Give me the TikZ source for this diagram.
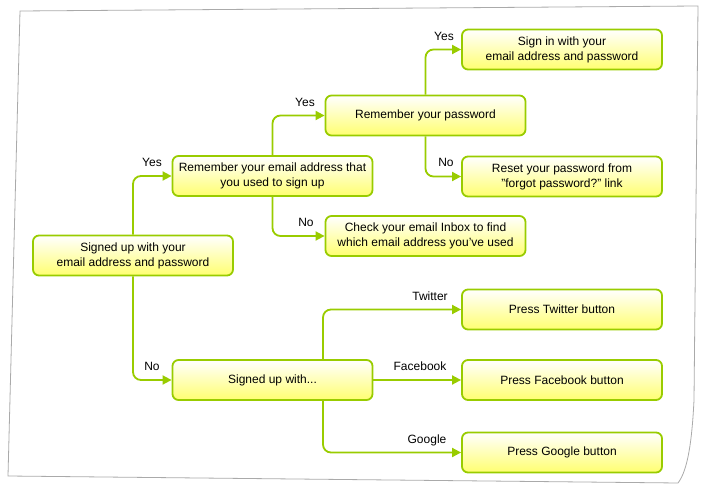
\documentclass[tikz,border=0pt]{standalone}
\usepackage{fontspec}
\setmainfont{Liberation Sans}
\usetikzlibrary{arrows.meta}
\definecolor{edgegreen}{HTML}{99CC00}
\definecolor{boxyellow}{HTML}{FFFF70}
\definecolor{papergray}{HTML}{AAAAAA}
\begin{document}
\begin{tikzpicture}[x=1pt,y=-1pt,
  box/.style={draw=edgegreen, line width=1.8pt, rounded corners=6pt,
    minimum width=200pt, minimum height=40pt, inner sep=0pt,
    top color=white, bottom color=boxyellow, align=center,
    font=\fontsize{12}{15}\selectfont},
  conn/.style={draw=edgegreen, line width=1.8pt, rounded corners=8pt,
    -{Triangle[length=9pt,width=9pt]}},
  lbl/.style={font=\fontsize{12}{15}\selectfont, inner sep=0pt}]
\useasboundingbox (0,0) rectangle (707,494);
% paper
\draw[papergray, line width=0.8pt] (20,11) -- (698,6) -- (694,400)
  .. controls (692,440) and (688,470) .. (678,483) -- (8,476) -- cycle;
% nodes
\node[box] (A) at (133,255.5) {Signed up with your\\email address and password};
\node[box] (B) at (272.5,176) {Remember your email address that\\you used to sign up};
\node[box] (C) at (425.5,115.5) {Remember your password};
\node[box] (D) at (562,49.5) {Sign in with your\\email address and password};
\node[box] (E) at (562,176.5) {Reset your password from\\"forgot password?" link};
\node[box] (F) at (425.5,236) {Check your email Inbox to find\\which email address you've used};
\node[box] (G) at (272.5,380) {Signed up with...};
\node[box] (H) at (562,309.5) {Press Twitter button};
\node[box] (I) at (562,380) {Press Facebook button};
\node[box] (J) at (562,452.5) {Press Google button};
% connectors
\draw[conn] (A.north) |- (B.west);
\draw[conn] (A.south) |- (G.west);
\draw[conn] (B.north) |- (C.west);
\draw[conn] (B.south) |- (F.west);
\draw[conn] (C.north) |- (D.west);
\draw[conn] (C.south) |- (E.west);
\draw[conn] (G.north -| 323,0) |- (H.west);
\draw[conn] (G.east) -- (I.west);
\draw[conn] (G.south -| 323,0) |- (J.west);
% labels
\node[lbl] at (152,162) {Yes};
\node[lbl] at (152,366) {No};
\node[lbl] at (305,102) {Yes};
\node[lbl] at (306,222) {No};
\node[lbl] at (444,36) {Yes};
\node[lbl] at (446,162) {No};
\node[lbl] at (430,296) {Twitter};
\node[lbl] at (420,366) {Facebook};
\node[lbl] at (427,440) {Google};
\end{tikzpicture}
\end{document}
